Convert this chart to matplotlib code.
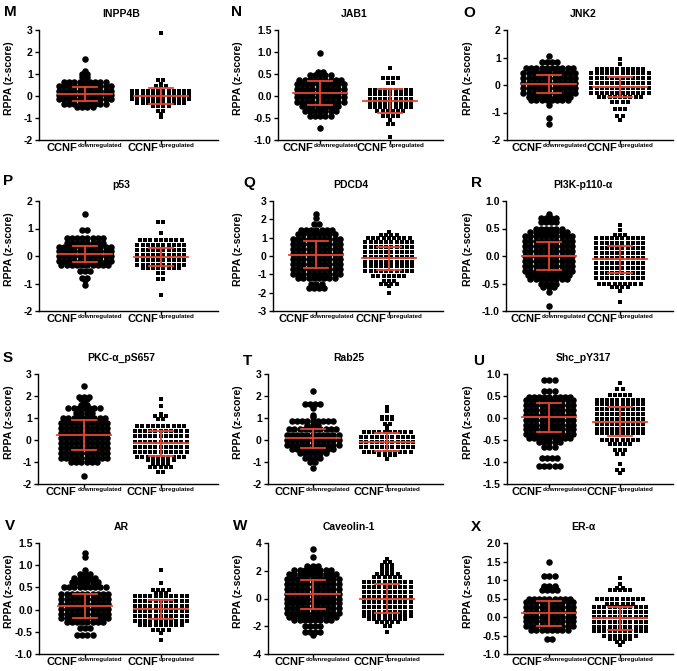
import matplotlib.pyplot as plt
import numpy as np
from matplotlib.offsetbox import TextArea, HPacker, AnnotationBbox

plt.rcParams['font.family'] = ['Liberation Sans', 'DejaVu Sans']
plt.rcParams['font.weight'] = 'bold'

# ---- data: (z-score level, number of samples at that level) ----
M_down = [(1.7, 1), (1.15, 1), (1.0, 2), (0.85, 2), (0.65, 9), (0.45, 11), (0.25, 11), (0.05, 11),
          (-0.15, 11), (-0.35, 9), (-0.5, 4)]
M_up = [(2.85, 1), (0.72, 2), (0.55, 1), (0.45, 3), (0.25, 12), (0.05, 12), (-0.15, 12), (-0.3, 10),
        (-0.45, 4), (-0.68, 2), (-0.82, 1), (-0.94, 1)]
N_down = [(0.97, 1), (0.55, 2), (0.47, 5), (0.37, 9), (0.27, 10), (0.17, 10), (0.07, 10), (-0.03, 10),
          (-0.13, 10), (-0.23, 8), (-0.33, 7), (-0.45, 5), (-0.73, 1)]
N_up = [(0.63, 1), (0.4, 4), (0.3, 2), (0.14, 9), (0.04, 9), (-0.06, 9), (-0.16, 9), (-0.26, 9),
        (-0.35, 6), (-0.45, 4), (-0.54, 1), (-0.63, 2), (-0.93, 1)]
O_down = [(1.07, 1), (0.84, 4), (0.62, 10), (0.44, 11), (0.26, 11), (0.08, 11), (-0.1, 11), (-0.28, 11),
          (-0.42, 9), (-0.56, 8), (-0.72, 1), (-1.2, 1), (-1.41, 1)]
O_up = [(0.96, 1), (0.78, 1), (0.6, 10), (0.42, 12), (0.24, 12), (0.06, 12), (-0.12, 12), (-0.3, 12),
        (-0.45, 9), (-0.62, 4), (-0.87, 3), (-1.13, 2), (-1.26, 1)]
P_down = [(1.52, 1), (0.93, 2), (0.64, 8), (0.46, 8), (0.34, 11), (0.17, 11), (0.0, 11), (-0.17, 11),
          (-0.33, 10), (-0.55, 3), (-0.79, 2), (-0.87, 1), (-1.07, 1)]
P_up = [(1.25, 2), (0.85, 1), (0.57, 9), (0.4, 10), (0.22, 10), (0.04, 10), (-0.14, 10), (-0.32, 10),
        (-0.44, 8), (-0.6, 2), (-0.85, 2), (-1.43, 1)]
Q_down = [(2.27, 1), (2.05, 1), (1.76, 2), (1.4, 7), (1.2, 8), (0.93, 10), (0.66, 10), (0.39, 10),
          (0.12, 10), (-0.15, 10), (-0.42, 10), (-0.69, 10), (-0.96, 10), (-1.2, 8), (-1.55, 3), (-1.76, 4)]
Q_up = [(1.3, 1), (1.15, 4), (1.0, 9), (0.78, 10), (0.51, 10), (0.24, 10), (-0.03, 10), (-0.3, 10),
        (-0.57, 10), (-0.84, 10), (-1.1, 7), (-1.36, 3), (-1.5, 4), (-1.64, 1), (-2.0, 1)]
R_down = [(0.77, 1), (0.7, 4), (0.62, 4), (0.5, 6), (0.43, 8), (0.36, 10), (0.27, 10), (0.18, 10),
          (0.09, 10), (0.0, 10), (-0.09, 10), (-0.18, 10), (-0.27, 10), (-0.35, 9), (-0.42, 8),
          (-0.5, 4), (-0.56, 3), (-0.65, 1), (-0.9, 1)]
R_up = [(0.57, 1), (0.48, 1), (0.38, 3), (0.32, 10), (0.23, 10), (0.14, 10), (0.05, 10), (-0.04, 10),
        (-0.13, 10), (-0.22, 10), (-0.31, 10), (-0.4, 10), (-0.5, 9), (-0.56, 4), (-0.63, 1), (-0.83, 1)]
S_down = [(2.47, 1), (1.95, 3), (1.85, 2), (1.71, 1), (1.6, 2), (1.44, 7), (1.22, 4), (1.0, 9),
          (0.77, 10), (0.54, 10), (0.31, 10), (0.08, 10), (-0.15, 10), (-0.38, 10), (-0.61, 10),
          (-0.84, 10), (-1.0, 6), (-1.62, 1)]
S_up = [(1.86, 1), (1.56, 1), (1.18, 1), (1.08, 3), (0.97, 2), (0.62, 10), (0.39, 11), (0.16, 11),
        (-0.07, 11), (-0.3, 11), (-0.53, 11), (-0.76, 10), (-0.9, 6), (-1.1, 4), (-1.24, 5), (-1.44, 2)]
T_down = [(2.24, 1), (1.64, 4), (1.44, 1), (1.14, 1), (1.03, 1), (0.88, 9), (0.68, 3), (0.48, 10),
          (0.25, 11), (0.02, 11), (-0.21, 11), (-0.4, 9), (-0.59, 6), (-0.8, 4), (-1.0, 2), (-1.25, 1)]
T_up = [(1.48, 1), (1.3, 1), (1.06, 3), (0.95, 3), (0.75, 2), (0.65, 1), (0.45, 1), (0.35, 10),
        (0.12, 11), (-0.11, 11), (-0.34, 11), (-0.55, 10), (-0.7, 4), (-0.85, 1)]
U_down = [(0.86, 3), (0.62, 3), (0.48, 9), (0.4, 10), (0.29, 10), (0.18, 10), (0.07, 10), (-0.04, 10),
          (-0.15, 10), (-0.26, 10), (-0.36, 10), (-0.46, 9), (-0.55, 5), (-0.65, 3), (-0.9, 4), (-1.08, 5)]
U_up = [(0.8, 1), (0.65, 2), (0.52, 5), (0.42, 10), (0.31, 10), (0.2, 10), (0.09, 10), (-0.02, 10),
        (-0.13, 10), (-0.24, 10), (-0.35, 10), (-0.5, 8), (-0.6, 5), (-0.72, 3), (-0.82, 2),
        (-1.05, 1), (-1.19, 2), (-1.25, 1)]
V_down = [(1.28, 1), (1.18, 1), (0.9, 1), (0.8, 3), (0.71, 5), (0.62, 6), (0.5, 9), (0.35, 10),
          (0.24, 10), (0.13, 10), (0.02, 10), (-0.09, 10), (-0.2, 10), (-0.29, 8), (-0.41, 3), (-0.57, 4)]
V_up = [(0.9, 1), (0.6, 1), (0.44, 4), (0.38, 3), (0.3, 11), (0.19, 11), (0.08, 11), (-0.03, 11),
        (-0.14, 11), (-0.25, 11), (-0.35, 9), (-0.45, 4), (-0.53, 1), (-0.68, 1)]
W_down = [(3.59, 1), (2.99, 1), (2.34, 3), (2.2, 2), (2.02, 8), (1.8, 10), (1.44, 11), (1.08, 11),
          (0.72, 11), (0.36, 11), (0.0, 11), (-0.36, 11), (-0.72, 11), (-1.08, 11), (-1.35, 10),
          (-1.54, 8), (-2.0, 4), (-2.39, 4), (-2.6, 1)]
W_up = [(2.82, 1), (2.63, 2), (2.39, 3), (2.19, 3), (2.0, 3), (1.78, 5), (1.54, 6), (1.2, 10),
        (0.84, 10), (0.48, 10), (0.12, 10), (-0.24, 10), (-0.6, 10), (-0.96, 10), (-1.25, 10),
        (-1.47, 8), (-1.7, 5), (-2.0, 2), (-2.45, 1)]
X_down = [(1.5, 1), (1.12, 3), (0.85, 3), (0.8, 3), (0.72, 4), (0.49, 9), (0.4, 10), (0.27, 10),
          (0.14, 10), (0.01, 10), (-0.12, 10), (-0.25, 10), (-0.35, 8), (-0.6, 2)]
X_up = [(1.05, 1), (0.9, 1), (0.79, 2), (0.72, 5), (0.49, 10), (0.36, 6), (0.26, 11), (0.13, 11),
        (0.0, 11), (-0.13, 11), (-0.26, 11), (-0.39, 11), (-0.5, 7), (-0.6, 5), (-0.68, 2), (-0.75, 1)]

# mean and SD (down, up) per panel
M_mean, M_sd = [0.08, 0.0], [0.32, 0.355]
N_mean, N_sd = [0.06, -0.11], [0.275, 0.265]
O_mean, O_sd = [0.05, -0.07], [0.325, 0.365]
P_mean, P_sd = [0.06, -0.04], [0.29, 0.33]
Q_mean, Q_sd = [0.07, -0.13], [0.725, 0.645]
R_mean, R_sd = [0.0, -0.06], [0.26, 0.245]
S_mean, S_sd = [0.23, -0.15], [0.68, 0.58]
T_mean, T_sd = [0.08, -0.08], [0.44, 0.40]
U_mean, U_sd = [0.02, -0.09], [0.33, 0.33]
V_mean, V_sd = [0.08, 0.01], [0.27, 0.215]
W_mean, W_sd = [0.29, 0.0], [1.07, 1.025]
X_mean, X_sd = [0.1, -0.04], [0.34, 0.32]

letters = ['M', 'N', 'O', 'P', 'Q', 'R', 'S', 'T', 'U', 'V', 'W', 'X']
titles = ['INPP4B', 'JAB1', 'JNK2', 'p53', 'PDCD4', 'PI3K-p110-α',
          'PKC-α_pS657', 'Rab25', 'Shc_pY317', 'AR', 'Caveolin-1', 'ER-α']
yticks = [[-2, -1, 0, 1, 2, 3], [-1.0, -0.5, 0.0, 0.5, 1.0, 1.5], [-2, -1, 0, 1, 2],
          [-2, -1, 0, 1, 2], [-3, -2, -1, 0, 1, 2, 3], [-1.0, -0.5, 0.0, 0.5, 1.0],
          [-2, -1, 0, 1, 2, 3], [-2, -1, 0, 1, 2, 3], [-1.5, -1.0, -0.5, 0.0, 0.5, 1.0],
          [-1.0, -0.5, 0.0, 0.5, 1.0, 1.5], [-4, -2, 0, 2, 4], [-1.0, -0.5, 0.0, 0.5, 1.0, 1.5, 2.0]]
groups_down = [M_down, N_down, O_down, P_down, Q_down, R_down, S_down, T_down, U_down, V_down, W_down, X_down]
groups_up = [M_up, N_up, O_up, P_up, Q_up, R_up, S_up, T_up, U_up, V_up, W_up, X_up]
means = [M_mean, N_mean, O_mean, P_mean, Q_mean, R_mean, S_mean, T_mean, U_mean, V_mean, W_mean, X_mean]
sds = [M_sd, N_sd, O_sd, P_sd, Q_sd, R_sd, S_sd, T_sd, U_sd, V_sd, W_sd, X_sd]
group_words = ['downregulated', 'upregulated']

# ---- layout (pixels) ----
W_PX, H_PX = 677, 671
ax_left = [39, 278, 507, 39, 273, 506, 38, 268, 507, 39, 268, 507]
ax_right = [218, 443, 673]
row_top = [30, 201, 374, 543]
row_bot = [140, 311, 484, 654]
letter_pos = [(4, 12), (231, 12), (463, 13), (3, 181), (243, 183), (471, 183),
              (3, 358), (243, 361), (473, 361), (5, 526), (233, 526), (471, 527)]
ylabel_x = [9, 238, 468]
RED = '#e5452d'
XMIN, XMAX = -0.6, 1.75

fig = plt.figure(figsize=(W_PX / 100, H_PX / 100), dpi=100)

for i in range(12):
    r, c = divmod(i, 3)
    left, right = ax_left[i], ax_right[c]
    top, bot = row_top[r], row_bot[r]
    ax = fig.add_axes([left / W_PX, 1 - bot / H_PX, (right - left) / W_PX, (bot - top) / H_PX])
    ax.set_xlim(XMIN, XMAX)
    ticks = yticks[i]
    ax.set_ylim(ticks[0], ticks[-1])
    px = (XMAX - XMIN) / (right - left)  # data units per pixel

    for xpos, rows, marker in [(0, groups_down[i], 'o'), (1, groups_up[i], 's')]:
        xs, ys = [], []
        for val, n in rows:
            offs = (np.arange(n) - (n - 1) / 2) * 5.2 * px
            xs.extend(xpos + offs)
            ys.extend([val] * n)
        ax.scatter(xs, ys, s=22 if marker == 'o' else 12.5, marker=marker, c='black',
                   linewidths=0, zorder=2, clip_on=False)

        m, sd = means[i][xpos], sds[i][xpos]
        ax.plot([xpos - 27 * px, xpos + 27 * px], [m, m], color=RED, lw=1.3, zorder=3)
        ax.plot([xpos - 12 * px, xpos + 12 * px], [m + sd, m + sd], color=RED, lw=1.3, zorder=3)
        ax.plot([xpos - 12 * px, xpos + 12 * px], [m - sd, m - sd], color=RED, lw=1.3, zorder=3)
        ax.plot([xpos, xpos], [m - sd, m + sd], color=RED, lw=1.3, zorder=3)

        box = HPacker(children=[TextArea('CCNF', textprops=dict(fontsize=8, fontweight='bold')),
                                TextArea(group_words[xpos], textprops=dict(fontsize=4.5, fontweight='bold'))],
                      align='top', pad=0, sep=0.5)
        ab = AnnotationBbox(box, (xpos, 0), xycoords=('data', 'axes fraction'), xybox=(0, -2.5),
                            boxcoords='offset points', box_alignment=(0.5, 1), frameon=False, pad=0)
        ax.add_artist(ab)

    ax.set_yticks(ticks)
    if isinstance(ticks[0], float):
        ax.set_yticklabels([f'{t:.1f}' for t in ticks])
    else:
        ax.set_yticklabels([f'{t:d}' for t in ticks])
    ax.set_xticks([0, 1])
    ax.set_xticklabels([])
    ax.tick_params(axis='both', direction='out', length=3, width=1.0, labelsize=7.5, pad=1.5)
    for t in ax.get_yticklabels():
        t.set_fontweight('bold')
    for s in ['top', 'right']:
        ax.spines[s].set_visible(False)
    for s in ['left', 'bottom']:
        ax.spines[s].set_linewidth(1.0)

    ax.annotate(titles[i], xy=(0.46, 1), xycoords='axes fraction', xytext=(0, 11.5),
                textcoords='offset points', ha='center', va='center', fontsize=7.5, fontweight='bold')

    lx, ly = letter_pos[i]
    fig.text(lx / W_PX, 1 - ly / H_PX, letters[i], ha='left', va='center', fontsize=11, fontweight='bold')
    fig.text(ylabel_x[c] / W_PX, 1 - ((top + bot) / 2 - 7) / H_PX, 'RPPA (z-score)', rotation=90,
             ha='center', va='center', fontsize=7.5, fontweight='bold')

plt.savefig('out.png', dpi=100)
